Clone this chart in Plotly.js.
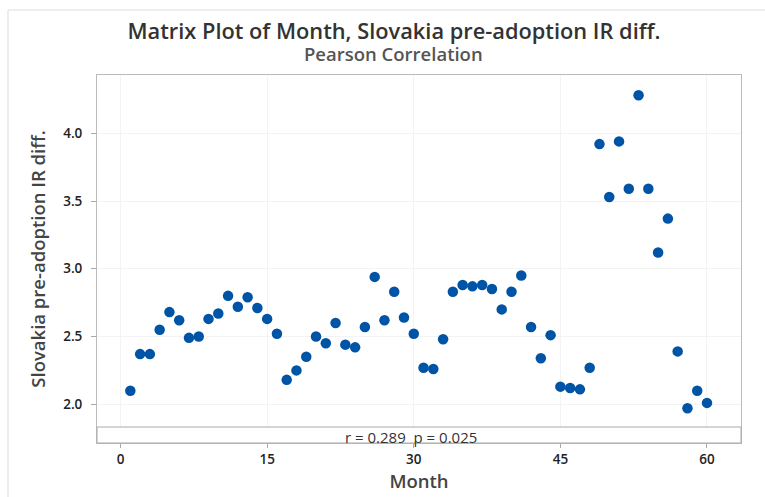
<!DOCTYPE html>
<html>
<head>
<meta charset="utf-8">
<script src="https://cdn.plot.ly/plotly-3.0.1.min.js"></script>
<style>html,body{margin:0;padding:0;background:#fff;}#chart{width:765px;height:497px;}</style>
</head>
<body>
<div id="chart"></div>
<script>
const months = Array.from({length: 60}, (_, i) => i + 1);
const irDiff = [
  2.10, 2.37, 2.37, 2.55, 2.68, 2.62, 2.49, 2.50, 2.63, 2.67,
  2.80, 2.72, 2.79, 2.71, 2.63, 2.52, 2.18, 2.25, 2.35, 2.50,
  2.45, 2.60, 2.44, 2.42, 2.57, 2.94, 2.62, 2.83, 2.64, 2.52,
  2.27, 2.26, 2.48, 2.83, 2.88, 2.87, 2.88, 2.85, 2.70, 2.83,
  2.95, 2.57, 2.34, 2.51, 2.13, 2.12, 2.11, 2.27, 3.92, 3.53,
  3.94, 3.59, 4.28, 3.59, 3.12, 3.37, 2.39, 1.97, 2.10, 2.01
];
const xTicks = [0, 15, 30, 45, 60];
const yTicks = [2.0, 2.5, 3.0, 3.5, 4.0];
const statText = "r = 0.289  p = 0.025";

const font = "Open Sans, Noto Sans, sans-serif";

const trace = {
  x: months, y: irDiff, type: "scatter", mode: "markers",
  marker: {color: "#0054A6", size: 10.5},
  hoverinfo: "x+y"
};

const layout = {
  width: 765, height: 497,
  margin: {l: 97, r: 24, t: 75, b: 54},
  paper_bgcolor: "#ffffff", plot_bgcolor: "#ffffff",
  font: {family: font, color: "#333"},
  showlegend: false,
  title: {
    text: "Matrix Plot of Month, Slovakia pre-adoption IR diff.",
    font: {family: font, size: 21.8, color: "#333", weight: 600},
    x: 394/765, xanchor: "center", xref: "container",
    y: 1 - 31/497, yref: "container", yanchor: "middle"
  },
  xaxis: {
    range: [-2.41, 63.48], tickvals: xTicks, ticktext: xTicks.map(String),
    showgrid: true, gridcolor: "#f3f3f3", zeroline: false,
    showline: true, linecolor: "#bbbbbb", mirror: true,
    ticks: "outside", ticklen: 4, tickcolor: "#aaa",
    tickfont: {size: 13.5, color: "#222", weight: 600},
    title: {text: "Month", font: {size: 18.5, color: "#444", weight: 600}, standoff: 6}
  },
  yaxis: {
    range: [1.714, 4.430], tickvals: yTicks, ticktext: yTicks.map(v => v.toFixed(1)),
    showgrid: true, gridcolor: "#f3f3f3", zeroline: false,
    showline: true, linecolor: "#bbbbbb", mirror: true,
    ticks: "outside", ticklen: 5, tickcolor: "#aaa",
    ticklabelstandoff: 6,
    tickfont: {size: 13.5, color: "#222", weight: 600},
    title: {text: "Slovakia pre-adoption IR diff.", font: {size: 18.5, color: "#444", weight: 600}, standoff: 12}
  },
  shapes: [
    {type: "rect", xref: "paper", yref: "paper", x0: 0, x1: 1, y0: 0, y1: 16/368,
     fillcolor: "#ffffff", line: {color: "#aaaaaa", width: 1}, layer: "above"},
    {type: "rect", xref: "paper", yref: "paper", x0: -89/644, x1: 1.06, y0: -0.16, y1: 433/368,
     fillcolor: "rgba(0,0,0,0)", line: {color: "#dddddd", width: 1}, layer: "below"}
  ],
  annotations: [
    {text: "Pearson Correlation", xref: "paper", yref: "paper", x: (393-97)/644, y: (443-54)/368,
     xanchor: "center", yanchor: "middle", showarrow: false,
     font: {family: font, size: 18.5, color: "#555", weight: 600}},
    {text: statText, xref: "paper", yref: "paper", x: (411-97)/644, y: 6.5/368,
     xanchor: "center", yanchor: "middle", showarrow: false,
     font: {family: font, size: 15, color: "#333"}}
  ]
};

Plotly.newPlot("chart", [trace], layout, {displayModeBar: false, staticPlot: true});
</script>
</body>
</html>
